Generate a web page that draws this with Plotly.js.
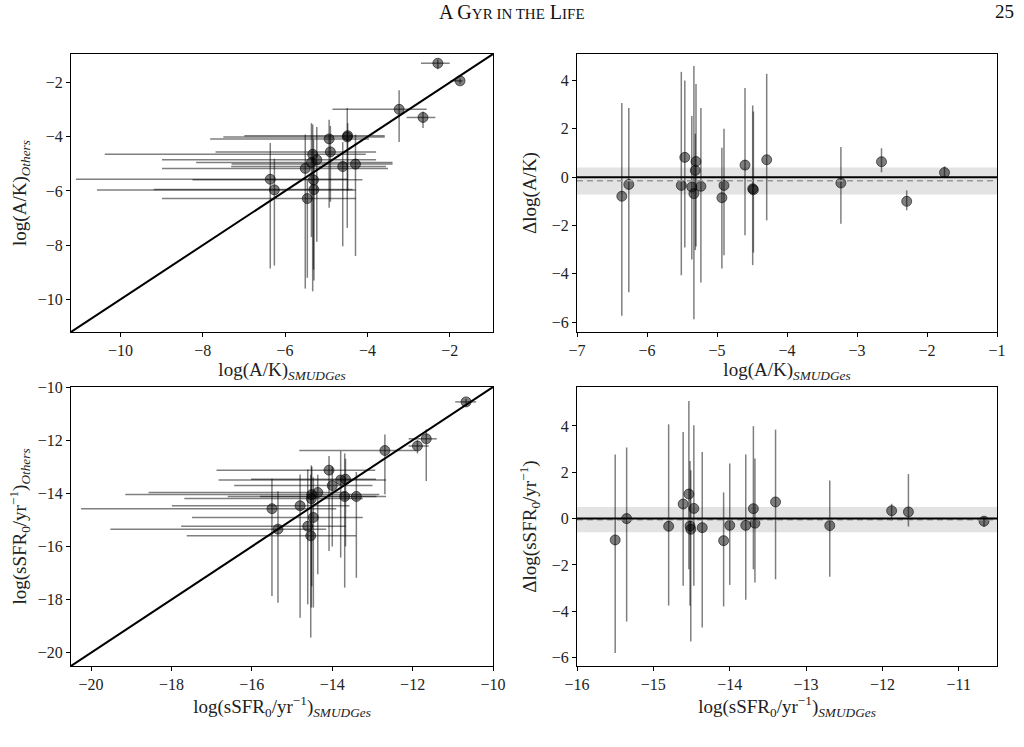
<!DOCTYPE html>
<html>
<head>
<meta charset="utf-8">
<script src="https://cdn.plot.ly/plotly-3.0.1.min.js"></script>
<style>html,body{margin:0;padding:0;background:#fff;}#chart{width:1024px;height:747px;}</style>
</head>
<body>
<div id="chart"></div>
<script>
// ---- A/K panel data ----
const akX   = [-6.36, -6.26, -5.51, -5.46, -5.36, -5.33, -5.31, -5.30, -5.23, -4.93, -4.90, -4.60, -4.49, -4.48, -4.29, -3.23, -2.65, -2.29, -1.75];
const akY   = [-5.57, -5.96, -5.17, -6.28, -4.95, -4.65, -5.59, -5.95, -4.85, -4.08, -4.56, -5.10, -4.01, -3.96, -5.01, -2.99, -3.29, -1.29, -1.94];
const akXlo = [-11.08, -10.57, -8.99, -8.99, -8.16, -10.38, -8.25, -9.19, -8.99, -7.82, -7.69, -7.31, -7.50, -6.99, -7.30, -4.85, -3.05, -2.70, -1.98];
const akXhi = [-4.48, -4.28, -3.50, -4.28, -3.39, -4.04, -4.12, -4.36, -3.79, -3.96, -3.79, -3.55, -3.58, -3.58, -3.39, -2.56, -2.35, -2.00, -1.69];
const akYlo = [-8.86, -8.75, -9.60, -9.20, -7.70, -9.70, -8.90, -9.30, -7.87, -6.62, -6.40, -8.04, -7.36, -6.00, -8.40, -4.19, -3.68, -1.51, -2.05];
const akYhi = [-4.23, -4.81, -3.92, -5.60, -3.50, -3.55, -4.10, -4.80, -3.64, -3.37, -3.60, -4.20, -2.94, -3.50, -3.92, -2.29, -3.07, -1.15, -1.85];
const akD   = [-0.79, -0.30, -0.34, 0.82, -0.41, -0.68, 0.28, 0.65, -0.38, -0.85, -0.34, 0.50, -0.48, -0.52, 0.72, -0.24, 0.64, -1.00, 0.19];
const akDhi = [3.07, 2.86, 4.36, 4.00, 2.53, 4.60, 1.80, 3.86, 2.86, 1.22, 2.00, 3.69, 2.97, 2.72, 4.28, 1.25, 1.20, -0.55, 0.45];
const akDlo = [-5.74, -4.76, -4.06, -2.91, -3.41, -5.88, -3.02, -2.87, -4.36, -3.78, -3.23, -2.40, -3.64, -3.12, -1.79, -1.93, 0.20, -1.37, 0.00];
const akMean = -0.15;
const akBand = [-0.72, 0.40];

// ---- sSFR panel data ----
const sfX   = [-15.50, -15.35, -14.80, -14.61, -14.535, -14.52, -14.51, -14.47, -14.36, -14.08, -14.00, -13.79, -13.69, -13.67, -13.40, -12.69, -11.88, -11.66, -10.67];
const sfY   = [-14.58, -15.35, -14.47, -15.24, -15.60, -14.20, -14.05, -14.91, -13.97, -13.13, -13.71, -13.50, -14.12, -13.47, -14.12, -12.39, -12.22, -11.95, -10.56];
const sfXlo = [-20.25, -19.52, -17.99, -17.76, -17.62, -17.68, -19.15, -17.49, -18.57, -16.88, -16.44, -16.83, -16.60, -16.02, -15.80, -14.82, -12.10, -12.10, -10.94];
const sfXhi = [-13.90, -14.15, -13.57, -13.66, -13.41, -13.24, -12.83, -13.24, -13.66, -12.93, -13.00, -12.66, -12.66, -12.91, -12.90, -11.92, -11.60, -11.40, -10.42];
const sfYlo = [-17.87, -18.12, -18.68, -18.18, -19.43, -18.30, -17.50, -18.30, -17.05, -16.17, -16.00, -16.42, -17.55, -16.00, -17.18, -14.04, -12.50, -13.54, -10.70];
const sfYhi = [-13.45, -13.92, -13.29, -13.10, -13.30, -12.95, -13.00, -13.40, -13.30, -12.60, -13.00, -12.41, -12.50, -12.70, -13.20, -11.79, -12.00, -11.60, -10.45];
const sfD   = [-0.92, 0.00, -0.33, 0.63, 1.06, -0.32, -0.46, 0.44, -0.39, -0.95, -0.29, -0.29, 0.43, -0.20, 0.72, -0.30, 0.34, 0.29, -0.11];
const sfDhi = [2.77, 3.07, 4.07, 3.74, 5.08, 2.49, 2.09, 4.03, 2.88, 1.13, 2.38, 2.77, 3.99, 2.59, 3.84, 1.65, 0.64, 1.92, 0.08];
const sfDlo = [-5.80, -4.44, -3.75, -2.90, -2.19, -3.76, -5.30, -2.90, -4.70, -3.79, -2.86, -3.50, -2.19, -2.76, -2.62, -2.51, -0.08, -0.34, -0.36];
const sfMean = -0.05;
const sfBand = [-0.59, 0.50];

// axis ranges
const akRange = [-11.2, -0.95];
const akDxRange = [-7, -1];
const akDyRange = [-6.41, 5.1];
const sfRange = [-20.5, -10];
const sfDxRange = [-16, -10.5];
const sfDyRange = [-6.36, 5.68];

const plus  = (hi, v) => hi.map((h, i) => h - v[i]);
const minus = (lo, v) => lo.map((l, i) => v[i] - l);

const errStyle = {type: 'data', symmetric: false, color: 'rgba(0,0,0,0.5)', thickness: 1.5, width: 0};
const mk = {size: 10, color: 'rgba(0,0,0,0.5)', line: {color: 'rgba(0,0,0,0.55)', width: 1}};

function pts(x, y, xa, ya, ex, ey) {
  const t = {x: x, y: y, xaxis: xa, yaxis: ya, mode: 'markers', type: 'scatter', marker: mk, showlegend: false, hoverinfo: 'skip'};
  if (ey) t.error_y = Object.assign({}, errStyle, {array: ey[0], arrayminus: ey[1]});
  if (ex) t.error_x = Object.assign({}, errStyle, {array: ex[0], arrayminus: ex[1]});
  return t;
}

const data = [
  pts(akX, akY, 'x', 'y', [plus(akXhi, akX), minus(akXlo, akX)], [plus(akYhi, akY), minus(akYlo, akY)]),
  pts(akX, akD, 'x2', 'y2', null, [plus(akDhi, akD), minus(akDlo, akD)]),
  pts(sfX, sfY, 'x3', 'y3', [plus(sfXhi, sfX), minus(sfXlo, sfX)], [plus(sfYhi, sfY), minus(sfYlo, sfY)]),
  pts(sfX, sfD, 'x4', 'y4', null, [plus(sfDhi, sfD), minus(sfDlo, sfD)])
];

const FONT = 'Liberation Serif, DejaVu Serif, serif';
function ax(domain, range, dtick, title, anchor, standoff) {
  return {
    domain: domain, range: range, dtick: dtick, anchor: anchor,
    showline: true, mirror: true, linecolor: '#000', linewidth: 1,
    ticks: 'outside', ticklen: 4, tickwidth: 1, tickcolor: '#000',
    showgrid: false, zeroline: false,
    tickfont: {family: FONT, size: 16, color: '#222'},
    title: {text: title, font: {family: FONT, size: 19, color: '#222'}, standoff: standoff},
    automargin: false
  };
}

const dxL = [71/1024, 493/1024], dxR = [577/1024, 997/1024];
const dyT = [1 - 332/747, 1 - 54/747], dyB = [1 - 666/747, 1 - 387/747];

const sub = '<sub><i>SMUDGes</i></sub>';
const oth = '<sub><i>Others</i></sub>';
const sfr = 'log(sSFR<sub>0</sub>/yr<sup>−1</sup>)';

const layout = {
  width: 1024, height: 747,
  margin: {l: 0, r: 0, t: 0, b: 0},
  paper_bgcolor: '#fff', plot_bgcolor: '#fff',
  font: {family: FONT, color: '#222'},
  showlegend: false,
  xaxis:  ax(dxL, akRange, 2, 'log(A/K)' + sub, 'y', 2),
  yaxis:  ax(dyT, akRange, 2, 'log(A/K)' + oth, 'x', 6),
  xaxis2: ax(dxR, akDxRange, 1, 'log(A/K)' + sub, 'y2', 2),
  yaxis2: ax(dyT, akDyRange, 2, 'Δlog(A/K)', 'x2', 10),
  xaxis3: ax(dxL, sfRange, 2, sfr + sub, 'y3', 2),
  yaxis3: ax(dyB, sfRange, 2, sfr + oth, 'x3', 6),
  xaxis4: ax(dxR, sfDxRange, 1, sfr + sub, 'y4', 2),
  yaxis4: ax(dyB, sfDyRange, 2, 'Δ' + sfr, 'x4', 10),
  shapes: [
    {type: 'line', xref: 'x', yref: 'y', x0: akRange[0], y0: akRange[0], x1: akRange[1], y1: akRange[1], line: {color: '#000', width: 2}},
    {type: 'line', xref: 'x3', yref: 'y3', x0: sfRange[0], y0: sfRange[0], x1: sfRange[1], y1: sfRange[1], line: {color: '#000', width: 2}},
    {type: 'rect', xref: 'x2 domain', yref: 'y2', x0: 0, x1: 1, y0: akBand[0], y1: akBand[1], fillcolor: 'rgba(128,128,128,0.22)', line: {width: 0}, layer: 'below'},
    {type: 'line', xref: 'x2 domain', yref: 'y2', x0: 0, x1: 1, y0: akMean, y1: akMean, line: {color: '#999', width: 1.5, dash: '6px,4px'}},
    {type: 'line', xref: 'x2 domain', yref: 'y2', x0: 0, x1: 1, y0: 0, y1: 0, line: {color: '#000', width: 2}},
    {type: 'rect', xref: 'x4 domain', yref: 'y4', x0: 0, x1: 1, y0: sfBand[0], y1: sfBand[1], fillcolor: 'rgba(128,128,128,0.22)', line: {width: 0}, layer: 'below'},
    {type: 'line', xref: 'x4 domain', yref: 'y4', x0: 0, x1: 1, y0: sfMean, y1: sfMean, line: {color: '#999', width: 1.5, dash: '6px,4px'}},
    {type: 'line', xref: 'x4 domain', yref: 'y4', x0: 0, x1: 1, y0: 0, y1: 0, line: {color: '#000', width: 2}}
  ],
  annotations: [
    {xref: 'paper', yref: 'paper', x: 0.5, y: 1 - 12/747, xanchor: 'center', yanchor: 'middle', showarrow: false,
     text: 'A G<span style="font-size:15px">YR IN THE</span> L<span style="font-size:15px">IFE</span>',
     font: {family: FONT, size: 20, color: '#111'}},
    {xref: 'paper', yref: 'paper', x: 1016/1024, y: 1 - 12/747, xanchor: 'right', yanchor: 'middle', showarrow: false,
     text: '25', font: {family: FONT, size: 19, color: '#111'}}
  ]
};

Plotly.newPlot('chart', data, layout, {staticPlot: true, displayModeBar: false});
</script>
</body>
</html>
